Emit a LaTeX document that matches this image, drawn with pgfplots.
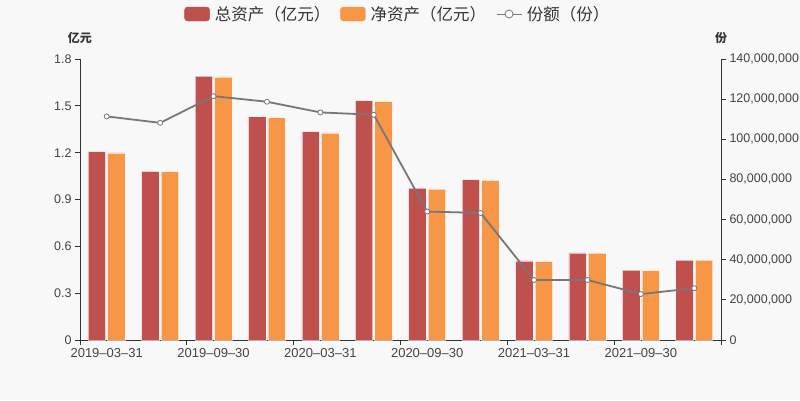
\documentclass[border=0pt]{standalone}
\usepackage{pgfplots}
\pgfplotsset{compat=1.18}
\usepackage{pgfplotstable}
\usepackage{fontspec}
\setmainfont{Liberation Sans}
\newfontfamily\cjk{Noto Sans CJK SC}

\definecolor{bg}{HTML}{F8F8F8}
\definecolor{zred}{HTML}{C0504D}
\definecolor{zorange}{HTML}{F79646}
\definecolor{lgray}{HTML}{777777}
\definecolor{axcol}{HTML}{333333}
\definecolor{txt}{HTML}{444444}

% quarter, total assets, net assets (1e8 yuan), shares
\pgfplotstableread{
x total net share
0 1.206 1.199 111400000
1 1.080 1.078 108200000
2 1.691 1.685 121500000
3 1.430 1.424 118700000
4 1.334 1.326 113400000
5 1.533 1.527 112200000
6 0.973 0.967 64000000
7 1.028 1.022 63300000
8 0.507 0.502 29900000
9 0.558 0.556 29900000
10 0.447 0.445 22900000
11 0.511 0.511 25800000
}\datatab

\pgfplotsset{
  base/.style={
    scale only axis, width=641pt, height=281pt,
    at={(0pt,0pt)}, anchor=south west,
    xmin=-0.5, xmax=11.5, ymin=0,
    tick align=outside, major tick length=5pt,
    axis line style={axcol, line width=0.8pt},
    tick style={axcol, line width=0.8pt},
    tick label style={font=\fontsize{12.5}{14}\selectfont, text=txt},
    scaled ticks=false,
    /pgf/number format/assume math mode=true,
    ylabel style={rotate=-90, anchor=south, at={(axis description cs:0,1)},
      yshift=12pt, font=\cjk\bfseries\fontsize{12}{14}\selectfont, text=axcol},
  },
}

\begin{document}
\begin{tikzpicture}
\useasboundingbox (-80pt,-60pt) rectangle (720pt,340pt);
\fill[bg] (-80pt,-60pt) rectangle (720pt,340pt);
\clip (-80pt,-60pt) rectangle (720pt,340pt);

\begin{axis}[base,
  axis x line*=bottom, axis y line*=left,
  ymax=1.8,
  ytick={0,0.3,0.6,0.9,1.2,1.5,1.8},
  yticklabels={0,0.3,0.6,0.9,1.2,1.5,1.8},
  xtick={-0.5,1.5,3.5,5.5,7.5,9.5,11.5},
  xticklabels={2019--03--31,2019--09--30,2020--03--31,2020--09--30,2021--03--31,2021--09--30,{}},
  x tick label style={xshift=26.7pt, font=\fontsize{13}{15}\selectfont},
  ylabel={亿元},
]
\addplot[ybar, fill=zred, draw=white, draw opacity=0.6, line width=0.6pt,
  bar width=17.5pt, bar shift=-9.75pt] table[x=x,y=total]{\datatab};
\addplot[ybar, fill=zorange, draw=white, draw opacity=0.6, line width=0.6pt,
  bar width=17.5pt, bar shift=9.75pt] table[x=x,y=net]{\datatab};
\end{axis}

\begin{axis}[base,
  axis y line*=right, axis x line=none,
  ymax=140000000,
  ytick={0,20000000,40000000,60000000,80000000,100000000,120000000,140000000},
  yticklabels={0,{20,000,000},{40,000,000},{60,000,000},{80,000,000},{100,000,000},{120,000,000},{140,000,000}},
  ylabel={份},
  ylabel style={at={(axis description cs:1,1)}},
  legend columns=3,
  legend style={at={(axis description cs:0.496,1)}, anchor=center, yshift=45pt,
    draw=none, fill=none, font=\cjk\fontsize{16.5}{20}\selectfont, text=axcol,
    /tikz/every odd column/.append style={column sep=3pt},
    /tikz/every even column/.append style={column sep=8pt}},
]
\addlegendimage{legend image code/.code={\fill[zred, rounded corners=3pt] (0pt,-7pt) rectangle (25pt,7pt);}}
\addlegendentry{总资产（亿元）}
\addlegendimage{legend image code/.code={\fill[zorange, rounded corners=3pt] (0pt,-7pt) rectangle (25pt,7pt);}}
\addlegendentry{净资产（亿元）}
\addplot[lgray, line width=1.8pt, mark=*, mark size=2.5pt,
  mark options={fill=white, draw=lgray, line width=0.8pt},
  legend image code/.code={\draw[lgray, line width=0.8pt] (0pt,0pt) -- (25pt,0pt);
    \draw[lgray, fill=white, line width=0.8pt] (12.5pt,0pt) circle (4pt);}]
  table[x=x,y=share]{\datatab};
\addlegendentry{份额（份）}
\end{axis}
\end{tikzpicture}
\end{document}
